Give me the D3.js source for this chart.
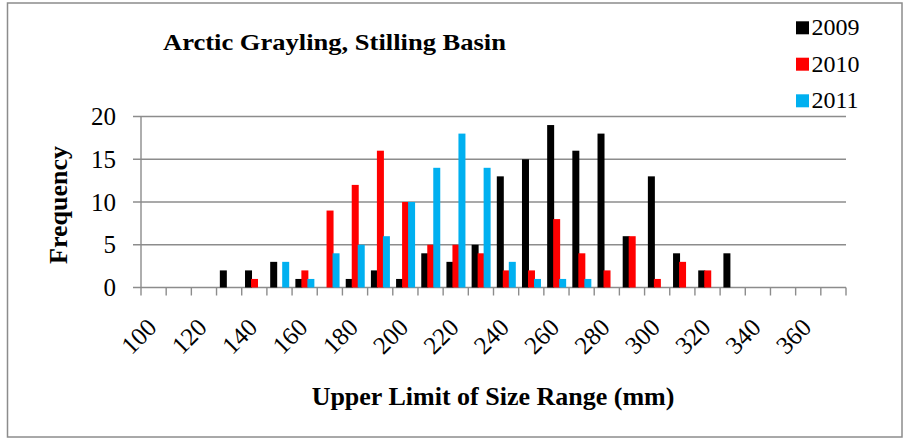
<!DOCTYPE html>
<html><head><meta charset="utf-8">
<script src="https://cdn.jsdelivr.net/npm/d3@7"></script>
<style>
html,body{margin:0;padding:0;background:#fff;}
svg{display:block;}
text{font-family:"Liberation Serif","Times New Roman",serif;fill:#000;}
</style></head>
<body>
<svg id="chart" width="904" height="438"></svg>
<script>
// ---- data ----
const categories = [100,110,120,130,140,150,160,170,180,190,200,210,220,230,240,250,260,270,280,290,300,310,320,330,340,350,360,370];
const seriesNames = ["2009","2010","2011"];
const seriesColors = ["#000000","#FF0000","#00B0F0"];
const values2009 = [0,0,0,2,2,3,1,0,1,2,1,4,3,5,13,15,19,16,18,6,13,4,2,4,0,0,0,0];
const values2010 = [0,0,0,0,1,0,2,9,12,16,10,5,5,4,2,2,8,4,2,6,1,3,2,0,0,0,0,0];
const values2011 = [0,0,0,0,0,3,1,4,5,6,10,14,18,14,3,1,1,1,0,0,0,0,0,0,0,0,0,0];
const yTicks = [0,5,10,15,20];
const xTickLabels = [100,120,140,160,180,200,220,240,260,280,300,320,340,360];
const titleText = "Arctic Grayling, Stilling Basin";
const xTitle = "Upper Limit of Size Range (mm)";
const yTitle = "Frequency";

const allSeries = [values2009, values2010, values2011];

const svg = d3.select("#chart");
const grid = "#8c8c8c";

// border
svg.append("rect").attr("x",7.5).attr("y",3).attr("width",894.5).attr("height",434)
  .attr("fill","none").attr("stroke",grid).attr("stroke-width",1.5);

const pL = 141, pR = 846, pT = 116.5, pB = 287.5;
const x = d3.scaleBand().domain(categories).range([pL,pR]).padding(0);
const y = d3.scaleLinear().domain([0,20]).range([pB,pT]);

// gridlines + y ticks
svg.append("g").selectAll("line").data(yTicks).join("line")
  .attr("x1",pL-8).attr("x2",pR).attr("y1",d=>y(d)).attr("y2",d=>y(d))
  .attr("stroke",grid).attr("stroke-width",1.4);
// y axis line
svg.append("line").attr("x1",pL).attr("x2",pL).attr("y1",y(20)).attr("y2",y(0))
  .attr("stroke",grid).attr("stroke-width",1.4);
// x ticks at band boundaries
const bounds = categories.map(c=>x(c)).concat([x(categories[categories.length-1])+x.bandwidth()]);
svg.append("g").selectAll("line").data(bounds).join("line")
  .attr("x1",d=>d).attr("x2",d=>d).attr("y1",y(0)).attr("y2",y(0)+8)
  .attr("stroke",grid).attr("stroke-width",1.4);

// y labels
svg.append("g").selectAll("text").data(yTicks).join("text")
  .attr("x",116).attr("y",d=>y(d)+8.5).attr("text-anchor","end")
  .style("font-size","25px").text(d=>d);

// bars
const barW = 7, step = 6, off = 3.3;
allSeries.forEach((vals,si)=>{
  svg.append("g").selectAll("rect").data(categories.map((c,i)=>({c,v:vals[i]})).filter(d=>d.v>0))
    .join("rect")
    .attr("x",d=>x(d.c)+off+si*step).attr("width",barW)
    .attr("y",d=>y(d.v)).attr("height",d=>y(0)-y(d.v))
    .attr("fill",seriesColors[si]);
});

// x tick labels
svg.append("g").selectAll("text").data(xTickLabels).join("text")
  .attr("transform",d=>`translate(${x(d)+x.bandwidth()/2+4.5},329) rotate(-45)`)
  .attr("text-anchor","end").style("font-size","25px").text(d=>d);

// titles
svg.append("text").attr("x",163).attr("y",50).style("font-size","24px").style("font-weight","bold")
  .attr("textLength",343).attr("lengthAdjust","spacingAndGlyphs").text(titleText);
svg.append("text").attr("x",493).attr("y",405).attr("text-anchor","middle")
  .style("font-size","26px").style("font-weight","bold").text(xTitle);
svg.append("text").attr("transform","translate(66.5,205) rotate(-90)").attr("text-anchor","middle")
  .style("font-size","26px").style("font-weight","bold").text(yTitle);

// legend
const legBase = [35.3,71.7,108.3];
seriesNames.forEach((n,i)=>{
  svg.append("rect").attr("x",796).attr("y",legBase[i]-14).attr("width",13).attr("height",13)
    .attr("fill",seriesColors[i]);
  svg.append("text").attr("x",811.5).attr("y",legBase[i]).style("font-size","24px").text(n);
});
</script>
</body></html>
